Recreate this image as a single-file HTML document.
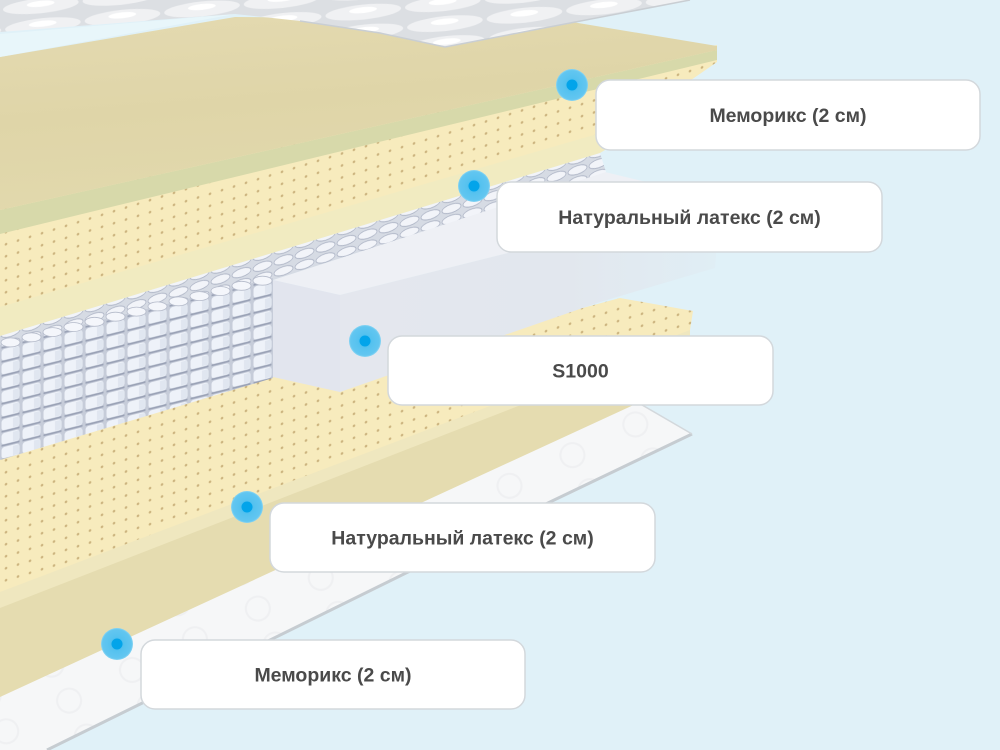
<!DOCTYPE html>
<html><head><meta charset="utf-8">
<style>
html,body{margin:0;padding:0;width:1000px;height:750px;overflow:hidden;background:#e0f1f8;}
svg{display:block}
.lbl{font-family:"Liberation Sans",Arial,sans-serif;font-weight:bold;font-size:19.5px;fill:#4a4a4a}
</style></head><body>
<svg width="1000" height="750" viewBox="0 0 1000 750" xmlns="http://www.w3.org/2000/svg">
<defs>
  <pattern id="dots" width="12" height="12" patternUnits="userSpaceOnUse" patternTransform="skewY(-17)">
    <rect width="12" height="12" fill="#f7ebbd"/>
    <circle cx="6" cy="6" r="1.3" fill="#ccb47f"/>
  </pattern>
  <pattern id="coil" width="21" height="14" patternUnits="userSpaceOnUse" patternTransform="skewY(-14)">
    <rect width="21" height="14" fill="#c6ccd9"/>
    <rect x="1.5" y="0" width="18" height="11.5" rx="3" fill="#eef2f9"/>
    <rect x="13" y="1" width="6" height="9.5" fill="#e0e6f0"/>
    <rect x="1.5" y="11.3" width="18" height="1.8" fill="#9aa2b6"/>
  </pattern>
  <pattern id="stop" width="21" height="11" patternUnits="userSpaceOnUse" patternTransform="skewY(-17)">
    <rect width="21" height="11" fill="#d6dbe4"/>
    <ellipse cx="10.5" cy="5.5" rx="9.5" ry="4.3" fill="#f2f4f9" stroke="#aeb5c6" stroke-width="0.8"/>
  </pattern>
  <pattern id="quilt" width="80" height="20" patternUnits="userSpaceOnUse" patternTransform="rotate(-6)">
    <rect width="80" height="20" fill="#dcdfe3"/>
    <ellipse cx="40" cy="10" rx="38" ry="7.5" fill="#f0f1f3"/>
    <ellipse cx="40" cy="8" rx="14" ry="3" fill="#ffffff"/>
  </pattern>
  <pattern id="swirl" width="70" height="40" patternUnits="userSpaceOnUse" patternTransform="rotate(-26)">
    <rect width="70" height="40" fill="#f6f7f8"/>
    <circle cx="35" cy="20" r="12" fill="none" stroke="#eff0f2" stroke-width="2"/>
  </pattern>
  <linearGradient id="foamg" x1="0" y1="0" x2="0.3" y2="1">
    <stop offset="0" stop-color="#e4dab1"/>
    <stop offset="0.5" stop-color="#dfd5a8"/>
    <stop offset="1" stop-color="#e2d9ad"/>
  </linearGradient>
  <linearGradient id="blockr" x1="0" y1="0" x2="1" y2="0">
    <stop offset="0" stop-color="#e4e7ee"/>
    <stop offset="0.6" stop-color="#e2e7ee"/>
    <stop offset="1" stop-color="#e0eef5"/>
  </linearGradient>
  <radialGradient id="dotg" cx="0.5" cy="0.5" r="0.5">
    <stop offset="0" stop-color="#2fb3ee"/>
    <stop offset="0.45" stop-color="#56c2ef"/>
    <stop offset="0.9" stop-color="#62c6f0"/>
    <stop offset="1" stop-color="#8ad5f3"/>
  </radialGradient>
</defs>

<rect width="1000" height="750" fill="#e0f1f8"/>

<!-- bottom white quilted layer -->
<polygon points="0,680 630,398 692,434 550,502 47,750 0,750" fill="url(#swirl)"/>
<polyline points="692,434 550,502 47,750" fill="none" stroke="#c6ccd1" stroke-width="3"/>
<polyline points="630,398 692,434" fill="none" stroke="#d3d8dc" stroke-width="1.5"/>

<!-- lower latex: khaki front face -->
<polygon points="0,606 690,337 688,350 640,402 0,697" fill="#e5dcb0"/>
<polygon points="0,590 690,329 690,339 0,608" fill="#efe7bf"/>
<!-- lower latex dotted top -->
<polygon points="0,440 273,360 500,330 620,298 693,311 690,330 0,592" fill="url(#dots)"/>

<!-- white block -->
<polygon points="273,280 605,172 720,200 340,295" fill="#eef0f5"/>
<polygon points="340,295 720,200 715,268 600,302 340,392" fill="url(#blockr)"/>
<polygon points="273,280 340,295 340,392 273,377" fill="#e2e5ee"/>

<!-- springs top band -->
<polygon points="0,336 600,153 606,172 273,280 0,347" fill="url(#stop)"/>
<!-- springs front -->
<polygon points="0,345 273,278 273,378 0,460" fill="url(#coil)"/>
<g fill="#f4f6fb" stroke="#b6bccb" stroke-width="0.8">
  <ellipse cx="10.5" cy="342.4" rx="9.5" ry="4.5"/>
  <ellipse cx="31.5" cy="337.3" rx="9.5" ry="4.5"/>
  <ellipse cx="52.5" cy="332.1" rx="9.5" ry="4.5"/>
  <ellipse cx="73.5" cy="327.0" rx="9.5" ry="4.5"/>
  <ellipse cx="94.5" cy="321.8" rx="9.5" ry="4.5"/>
  <ellipse cx="115.5" cy="316.7" rx="9.5" ry="4.5"/>
  <ellipse cx="136.5" cy="311.6" rx="9.5" ry="4.5"/>
  <ellipse cx="157.5" cy="306.4" rx="9.5" ry="4.5"/>
  <ellipse cx="178.5" cy="301.3" rx="9.5" ry="4.5"/>
  <ellipse cx="199.5" cy="296.1" rx="9.5" ry="4.5"/>
  <ellipse cx="220.5" cy="291.0" rx="9.5" ry="4.5"/>
  <ellipse cx="241.5" cy="285.8" rx="9.5" ry="4.5"/>
  <ellipse cx="262.5" cy="280.7" rx="9.5" ry="4.5"/>
</g>

<!-- upper latex -->
<polygon points="0,305 625,124 625,138 600,153 0,336" fill="#f1ebc1"/>
<polygon points="0,200 717,45 717,62 625,126 0,307" fill="url(#dots)"/>

<!-- top memory foam -->
<polygon points="0,210 717,50 717,60 0,234" fill="#d7d9aa"/>
<polygon points="0,57 235,17 560,20 717,46 717,50 0,210" fill="url(#foamg)"/>

<!-- gap highlight -->
<polygon points="0,34 235,14 0,57" fill="#e8f6fa"/>

<!-- top quilted cover -->
<polygon points="0,0 690,0 445,47 380,33 300,21 235,14 0,32" fill="url(#quilt)"/>
<polyline points="300,21 380,33 445,47 690,0" fill="none" stroke="#c9ced3" stroke-width="1.5"/>

<!-- labels -->
<g stroke="#d3d8dc" stroke-width="1.5" fill="#ffffff">
  <rect x="596" y="80" width="384" height="70" rx="14"/>
  <rect x="497" y="182" width="385" height="70" rx="14"/>
  <rect x="388" y="336" width="385" height="69" rx="14"/>
  <rect x="270" y="503" width="385" height="69" rx="14"/>
  <rect x="141" y="640" width="384" height="69" rx="14"/>
</g>
<g class="lbl" text-anchor="middle">
  <text x="788" y="122">Меморикс (2 см)</text>
  <text x="689.5" y="224">Натуральный латекс (2 см)</text>
  <text x="580.5" y="377.5">S1000</text>
  <text x="462.5" y="544.5">Натуральный латекс (2 см)</text>
  <text x="333" y="681.5">Меморикс (2 см)</text>
</g>

<!-- markers -->
<g>
  <circle cx="572" cy="85" r="16" fill="url(#dotg)"/><circle cx="572" cy="85" r="5.5" fill="#02a4ea"/>
  <circle cx="474" cy="186" r="16" fill="url(#dotg)"/><circle cx="474" cy="186" r="5.5" fill="#02a4ea"/>
  <circle cx="365" cy="341" r="16" fill="url(#dotg)"/><circle cx="365" cy="341" r="5.5" fill="#02a4ea"/>
  <circle cx="247" cy="507" r="16" fill="url(#dotg)"/><circle cx="247" cy="507" r="5.5" fill="#02a4ea"/>
  <circle cx="117" cy="644" r="16" fill="url(#dotg)"/><circle cx="117" cy="644" r="5.5" fill="#02a4ea"/>
</g>
</svg>
</body></html>
